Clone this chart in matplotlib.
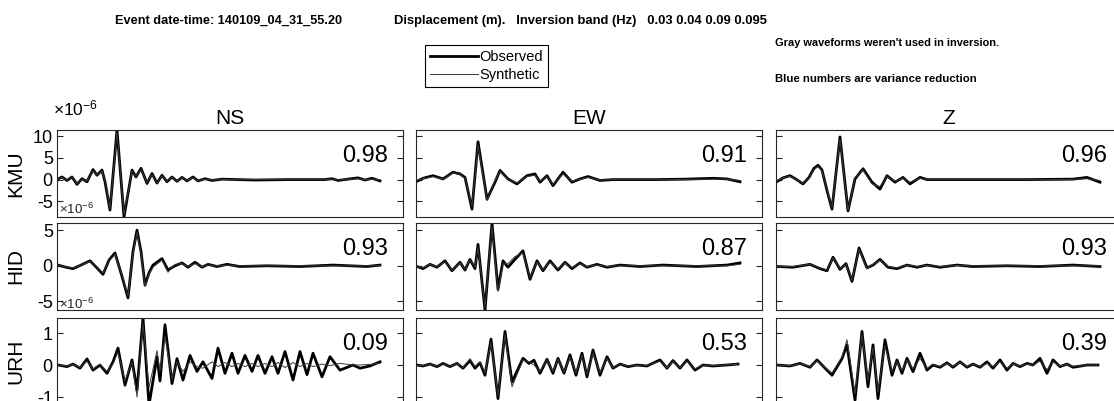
#!/usr/bin/env python3

import matplotlib
matplotlib.use("Agg")
import matplotlib.pyplot as plt
from matplotlib.lines import Line2D

plt.rcParams['font.family'] = ['Liberation Sans', 'DejaVu Sans']
plt.rcParams['mathtext.fontset'] = 'custom'
plt.rcParams['mathtext.rm'] = 'Liberation Sans'
plt.rcParams['mathtext.it'] = 'Liberation Sans:italic'
plt.rcParams['axes.unicode_minus'] = False

stations = ["KMU", "HID", "URH"]
components = ["NS", "EW", "Z"]
var_red = [[0.98, 0.91, 0.96],
           [0.93, 0.87, 0.93],
           [0.09, 0.53, 0.39]]
row_ticks = [[-5, 0, 5, 10], [-5, 0, 5], [-1, 0, 1]]
window = 346  # s, plotted time window

# displacement, units of 1e-6 m ; t in s
t_kmu_ns = [0, 5, 10, 15, 20, 25, 30, 36, 40, 45, 48, 53, 60, 67, 75, 79, 84, 90, 95, 100,
            105, 110, 115, 120, 125, 130, 136, 141, 148, 155, 165, 181, 198, 231, 268, 275,
            281, 291, 301, 308, 315, 323]
obs_kmu_ns = [0, 0.6, -0.2, 0.6, -1.1, 0.2, -0.5, 2.3, 1.0, 2.2, -0.5, -7.0, 11.4, -8.6, 2.2,
              0.6, 2.6, -0.9, 1.4, -0.8, 1.0, -0.5, 0.6, -0.4, 0.5, -0.3, 0.6, -0.3, 0.2, -0.2,
              0.1, 0, -0.1, 0, 0, 0.2, -0.2, 0.1, 0.4, -0.1, 0.3, -0.3]
syn_kmu_ns = [0, 0.5, -0.1, 0.5, -1.0, 0.1, -0.4, 2.0, 1.1, 2.0, -0.3, -6.6, 10.8, -8.1, 2.0,
              0.7, 2.3, -0.7, 1.2, -0.7, 0.9, -0.4, 0.5, -0.3, 0.4, -0.2, 0.4, -0.2, 0.1, -0.1,
              0.05, 0, 0, 0, 0, 0.1, -0.1, 0.05, 0.2, 0, 0.1, -0.1]

t_kmu_ew = [0, 7, 17, 27, 37, 44, 49, 56, 62, 71, 79, 84, 92, 101, 111, 119, 124, 131, 137, 147,
            156, 164, 172, 184, 197, 240, 270, 297, 311, 324]
obs_kmu_ew = [-0.5, 0.3, 0.9, 0.15, 1.7, 1.3, 0.5, -6.8, 8.7, -4.5, -0.6, 2.1, 0.15, -1.0, 0.9,
              1.3, -0.6, 0.9, -1.4, 1.7, -0.6, 0.15, 0.7, -0.2, 0, 0, 0.1, 0.3, 0.15, -0.5]
syn_kmu_ew = [-0.3, 0.2, 0.7, 0.1, 1.5, 1.2, 0.3, -6.2, 8.0, -4.8, -0.2, 1.8, 0.1, -0.8, 0.7,
              1.0, -0.4, 0.7, -1.1, 1.3, -0.4, 0.1, 0.5, -0.1, 0, 0, 0.05, 0.1, 0.1, -0.2]

t_kmu_z = [0, 7, 14, 20, 27, 33, 38, 42, 46, 51, 56, 64, 72, 79, 87, 96, 104, 111, 119, 127,
           134, 144, 151, 200, 250, 297, 311, 324]
obs_kmu_z = [-0.6, 0.4, 0.9, 0.1, -1.0, 0.5, 2.6, 3.3, 2.2, -2.5, -6.8, 9.8, -7.2, 0.15, 2.5,
             -0.6, -2.2, 0.9, -0.6, 0.5, -1.0, 0.5, 0, 0, 0, 0.1, 0.5, -0.6]
syn_kmu_z = [-0.4, 0.4, 0.8, 0.1, -0.9, 0.4, 2.3, 3.0, 2.0, -2.2, -6.4, 9.3, -7.0, 0.4, 2.2,
             -1.0, -1.6, 0.7, -0.4, 0.3, -0.6, 0.3, 0, 0, 0, 0.05, 0.2, -0.2]

t_hid_ns = [1, 9, 16, 24, 33, 40, 46, 52, 58, 65, 71, 76, 80, 84, 88, 92, 96, 105, 111, 118,
            125, 131, 138, 145, 151, 160, 170, 183, 210, 243, 276, 310, 323]
obs_hid_ns = [0.1, -0.2, -0.4, 0.1, 0.7, -0.3, -1.2, 0.8, 1.8, -1.5, -4.5, 2.0, 5.0, 2.0, -2.7,
              -1.0, 0.1, 1.0, -0.6, 0, 0.4, -0.2, 0.5, -0.2, 0.2, -0.1, 0.2, -0.1, 0, -0.1,
              0.1, -0.1, 0.1]
syn_hid_ns = [0.1, -0.15, -0.3, 0.1, 0.6, -0.2, -1.0, 0.7, 1.6, -1.4, -4.2, 1.7, 4.7, 1.7, -2.9,
              -1.2, -0.2, 0.8, -0.9, 0.2, 0.3, -0.1, 0.3, -0.1, 0.1, 0, 0.1, 0, 0, 0,
              0, 0, 0]

t_hid_ew = [1, 7, 14, 21, 29, 36, 44, 49, 54, 59, 62, 69, 76, 82, 87, 92, 99, 107, 114, 121,
            127, 134, 142, 149, 156, 164, 171, 181, 191, 204, 224, 247, 281, 311, 324]
obs_hid_ew = [-0.1, -0.4, 0.2, -0.2, 0.7, -0.7, 0.5, -0.6, 0.9, -0.4, 3.0, -6.2, 6.0, -3.3, 0.7,
              -0.2, 0.9, 2.1, -1.9, 0.7, -0.7, 0.7, -0.6, 0.5, -0.4, 0.4, -0.2, 0.2, -0.2, 0.1,
              -0.1, 0.1, -0.1, 0.1, 0.4]
syn_hid_ew = [-0.1, -0.3, 0.2, -0.2, 0.6, -0.6, 0.4, -0.5, 0.8, -0.2, 2.6, -5.8, 5.5, -3.6, 0.3,
              0.3, 1.3, 1.8, -1.6, 0.5, -0.5, 0.5, -0.4, 0.4, -0.3, 0.3, -0.1, 0.1, -0.1, 0,
              0, 0, 0, 0, 0.2]

t_hid_z = [1, 17, 34, 44, 51, 57, 64, 70, 76, 83, 91, 97, 104, 112, 121, 131, 141, 151, 164,
           181, 197, 231, 264, 297, 324]
obs_hid_z = [-0.1, -0.2, 0.2, -0.4, -0.7, 1.2, -0.5, 0.3, -2.2, 2.5, -0.3, 0.1, 0.9, -0.2, -0.4,
             0.1, -0.2, 0.1, -0.2, 0.1, -0.1, 0, -0.1, 0.1, -0.1]
syn_hid_z = [-0.1, -0.1, 0.2, -0.3, -0.6, 1.1, -0.4, 0.2, -2.0, 2.3, -0.4, 0.2, 0.8, -0.1, -0.3,
             0.1, -0.1, 0.05, -0.1, 0.05, 0, 0, 0, 0, 0]

t_urh_ns = [1, 10, 16, 23, 30, 36, 43, 50, 56, 61, 68, 75, 80, 86, 92, 100, 103, 108, 115, 120,
            126, 133, 140, 146, 155, 161, 168, 175, 181, 188, 195, 201, 208, 215, 221, 228, 236,
            243, 250, 256, 265, 273, 283, 296, 303, 313, 323]
obs_urh_ns = [0, -0.05, 0.03, -0.1, 0.19, -0.16, 0, -0.26, 0.1, 0.53, -0.63, 0.16, -0.79, 1.47,
              -1.25, 0.26, -0.5, 1.26, -0.58, 0.2, -0.47, 0.3, -0.2, 0.1, -0.42, 0.53, -0.26,
              0.37, -0.26, 0.3, -0.2, 0.3, -0.26, 0.26, -0.26, 0.42, -0.47, 0.42, -0.3, 0.37,
              -0.37, 0.26, -0.16, 0, -0.1, -0.03, 0.1]
syn_urh_ns = [0, -0.03, 0.02, -0.08, 0.12, -0.12, 0.02, -0.2, 0.05, 0.4, -0.5, 0.1, -1.0, 1.3,
              -0.7, 0.45, -0.2, 0.9, -0.45, 0.1, -0.2, 0.1, -0.05, -0.1, 0.1, -0.05, 0.08,
              -0.05, 0.05, -0.05, 0.05, -0.05, 0.05, -0.05, 0.08, -0.08, 0.08, -0.05, 0.05,
              -0.05, 0.03, -0.02, 0.05, 0, 0, 0.02, 0.05]

t_urh_ew = [1, 7, 14, 21, 27, 34, 41, 47, 54, 59, 64, 69, 75, 82, 89, 96, 107, 113, 118, 124,
            131, 137, 142, 148, 154, 160, 166, 171, 177, 184, 191, 197, 204, 212, 221, 231, 244,
            251, 257, 264, 271, 279, 287, 297, 311, 322]
obs_urh_ew = [0, -0.03, 0.03, -0.05, 0.05, -0.05, 0.05, -0.1, 0.14, -0.1, 0.07, -0.32, 0.81,
              -1.05, 1.05, -0.53, 0.21, 0.05, 0.15, -0.26, 0.18, -0.26, 0.21, -0.26, 0.32, -0.32,
              0.37, -0.37, 0.47, -0.32, 0.26, -0.1, 0.03, -0.05, 0, -0.03, 0.16, -0.1, 0.14,
              -0.1, 0.16, -0.16, 0, -0.03, 0, 0.03]
syn_urh_ew = [0, -0.02, 0.03, -0.04, 0.04, -0.04, 0.04, -0.08, 0.2, -0.05, 0.1, -0.25, 0.7,
              -0.95, 0.95, -0.68, 0.15, 0.1, 0.0, -0.2, 0.15, -0.2, 0.18, -0.22, 0.25, -0.25,
              0.3, -0.3, 0.38, -0.25, 0.2, -0.08, 0.03, -0.03, 0, -0.02, 0.12, -0.08, 0.1,
              -0.08, 0.12, -0.12, 0, -0.02, 0, 0.02]

t_urh_z = [1, 14, 24, 34, 41, 56, 66, 71, 79, 86, 92, 97, 102, 109, 116, 121, 126, 131, 137, 144,
           151, 157, 164, 171, 177, 184, 191, 197, 204, 211, 217, 224, 231, 237, 244, 251, 257,
           264, 271, 277, 284, 291, 297, 311, 322]
obs_urh_z = [0, -0.03, 0.05, -0.07, 0.16, -0.32, 0.2, 0.63, -1.1, 1.05, -0.68, 0.63, -1.05, 0.79,
             -0.32, 0.16, -0.26, 0.21, -0.21, 0.37, -0.16, 0, -0.07, 0.07, -0.07, 0.1, -0.07,
             0.03, -0.07, 0.1, -0.1, 0.16, -0.16, 0.05, -0.05, 0.05, 0, 0.21, -0.26, 0.16,
             -0.05, 0.03, -0.07, 0, 0]
syn_urh_z = [0, -0.02, 0.04, -0.05, 0.12, -0.25, 0.25, 0.79, -0.9, 0.95, -0.5, 0.55, -0.85, 0.6,
             -0.2, 0.1, -0.18, 0.15, -0.12, 0.2, -0.1, 0.02, -0.05, 0.05, -0.05, 0.08, -0.05,
             0.02, -0.05, 0.05, -0.05, 0.1, -0.1, 0.03, -0.03, 0.03, 0, 0.12, -0.15, 0.1,
             -0.03, 0.02, -0.04, 0, 0]

traces = [
    [(t_kmu_ns, obs_kmu_ns, syn_kmu_ns), (t_kmu_ew, obs_kmu_ew, syn_kmu_ew), (t_kmu_z, obs_kmu_z, syn_kmu_z)],
    [(t_hid_ns, obs_hid_ns, syn_hid_ns), (t_hid_ew, obs_hid_ew, syn_hid_ew), (t_hid_z, obs_hid_z, syn_hid_z)],
    [(t_urh_ns, obs_urh_ns, syn_urh_ns), (t_urh_ew, obs_urh_ew, syn_urh_ew), (t_urh_z, obs_urh_z, syn_urh_z)],
]

W, H = 1114, 401


def fx(px):
    return px / W


def fy(py):
    return 1 - py / H


def main():
    fig = plt.figure(figsize=(W / 100, H / 100), dpi=100)

    col_left = [57, 416, 776]
    row_top = [130, 223, 318]
    aw, ah = 346, 87
    frame = '#262626'

    for r in range(3):
        lo = min(min(tr[1]) for tr in traces[r])
        hi = max(max(tr[1]) for tr in traces[r])
        for c in range(3):
            ax = fig.add_axes([fx(col_left[c]), fy(row_top[r] + ah), aw / W, ah / H])
            t, obs, syn = traces[r][c]
            ax.plot(t, obs, color='black', lw=2.0, solid_joinstyle='round')
            ax.plot(t, syn, color='#3a3a3a', lw=0.7)
            ax.set_xlim(0, window)
            ax.set_ylim(lo, hi)
            ax.set_xticks([])
            ax.set_yticks(row_ticks[r])
            ax.tick_params(axis='y', direction='in', length=4, width=0.8, right=True,
                           colors=frame, labelcolor='black', labelsize=13, pad=3,
                           labelleft=(c == 0))
            for s in ax.spines.values():
                s.set_color(frame)
                s.set_linewidth(0.8)
            ax.text(0.957, 0.70, "%.2f" % var_red[r][c], transform=ax.transAxes,
                    ha='right', va='center', fontsize=17)
            if r == 0:
                ax.set_title(components[c], fontsize=15, pad=4)
            if c == 0:
                if r == 0:
                    fig.text(fx(53), fy(108), r'$\times10^{-6}$', fontsize=12.5,
                             ha='left', va='center')
                else:
                    fig.text(fx(59), fy(row_top[r] - 14), r'$\times10^{-6}$', fontsize=9.5,
                             ha='left', va='center', color='#222222')
                fig.text(fx(16), fy(row_top[r] + ah / 2), stations[r], rotation=90,
                         fontsize=15, ha='center', va='center')

    # header texts
    fig.text(fx(115), fy(21), "Event date-time: 140109_04_31_55.20",
             fontsize=9.2, fontweight='bold', ha='left', va='center')
    fig.text(fx(394), fy(21), "Displacement (m).   Inversion band (Hz)   0.03 0.04 0.09 0.095",
             fontsize=9.4, fontweight='bold', ha='left', va='center')
    fig.text(fx(775), fy(43), "Gray waveforms weren't used in inversion.",
             fontsize=7.9, fontweight='bold', ha='left', va='center')
    fig.text(fx(775), fy(79), "Blue numbers are variance reduction",
             fontsize=8.2, fontweight='bold', ha='left', va='center')

    handles = [Line2D([], [], color='black', lw=2.0), Line2D([], [], color='#3a3a3a', lw=0.7)]
    leg = fig.legend(handles, ["Observed", "Synthetic"], loc='upper left',
                     bbox_to_anchor=(fx(425), fy(45)), borderaxespad=0, fontsize=10.5,
                     handlelength=3.3, handletextpad=0.1, borderpad=0.35, labelspacing=0.25,
                     fancybox=False, framealpha=1, edgecolor='black')
    leg.get_frame().set_linewidth(0.8)

    fig.savefig("out.png", dpi=100)


if __name__ == "__main__":
    main()
